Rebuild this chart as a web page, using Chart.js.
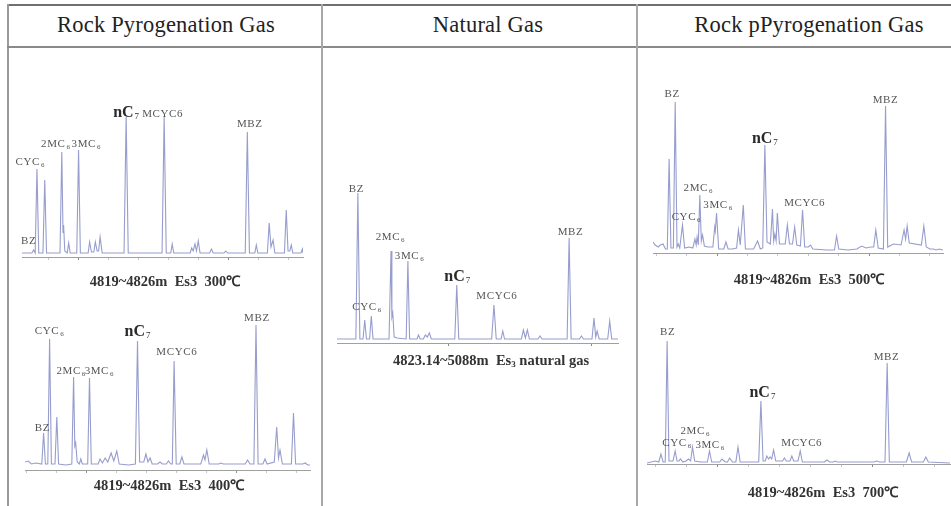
<!DOCTYPE html>
<html>
<head>
<meta charset="utf-8">
<script src="https://cdn.jsdelivr.net/npm/chart.js@4.4.1/dist/chart.umd.min.js"></script>
<style>
  html, body { margin:0; padding:0; background:#fff; }
  #wrap { position:relative; width:951px; height:506px; overflow:hidden; background:#fff; }
  .ln { position:absolute; background:#8c8c8c; }
  .hd { position:absolute; top:11px; height:28px; line-height:28px; width:320px; text-align:center;
        font-family:"Liberation Serif", "Times New Roman", serif; font-size:22.5px; letter-spacing:0.2px; color:#222; }
  .cap { position:absolute; height:18px; line-height:18px; width:320px; text-align:center; white-space:pre;
         font-family:"Liberation Serif", "Times New Roman", serif; font-size:14.5px; font-weight:bold; color:#333; }
  .cap sub { font-size:9px; vertical-align:-2px; line-height:0; }
  canvas { position:absolute; }
</style>
</head>
<body>
<div id="wrap">
  <div class="ln" style="left:7px;top:4px;width:944px;height:2px;background:#707070"></div>
  <div class="ln" style="left:7px;top:4px;width:1.5px;height:502px;background:#9a9a9a"></div>
  <div class="ln" style="left:7px;top:46px;width:944px;height:2px;background:#8a8a8a"></div>
  <div class="ln" style="left:321px;top:4px;width:2px;height:502px;background:#a8a8a8"></div>
  <div class="ln" style="left:636px;top:4px;width:2px;height:502px;background:#a8a8a8"></div>

  <div class="hd" style="left:6px">Rock Pyrogenation Gas</div>
  <div class="hd" style="left:328px">Natural Gas</div>
  <div class="hd" style="left:649px">Rock pPyrogenation Gas</div>

  <canvas id="c1" width="312" height="225" style="left:8px;top:50px"></canvas>
  <canvas id="c2" width="312" height="211" style="left:8px;top:295px"></canvas>
  <canvas id="c3" width="312" height="210" style="left:324px;top:150px"></canvas>
  <canvas id="c4" width="311" height="230" style="left:640px;top:50px"></canvas>
  <canvas id="c5" width="311" height="211" style="left:640px;top:295px"></canvas>

  <div class="cap" style="left:5px;top:272px">4819~4826m  Es3  300℃</div>
  <div class="cap" style="left:9px;top:476px">4819~4826m  Es3  400℃</div>
  <div class="cap" style="left:331px;top:351px">4823.14~5088m  Es<sub>3</sub> natural gas</div>
  <div class="cap" style="left:649px;top:270px">4819~4826m  Es3  500℃</div>
  <div class="cap" style="left:663px;top:483px">4819~4826m  Es3  700℃</div>
</div>
<script>
// ---- DATA: retention time (min), detector signal (relative units) ----
const p1Trace = [[3.11,4],[3.44,4],[3.50,7],[3.55,4],[3.61,88],[3.67,4],[3.81,4],[3.87,77],[3.93,4],[4.38,4],[4.44,105],[4.48,24],[4.50,32],[4.54,6],[4.62,4],[4.67,14],[4.72,4],[4.94,4],[5.00,107],[5.06,4],[5.32,4],[5.37,15],[5.43,5],[5.51,5],[5.56,15],[5.62,6],[5.67,6],[5.72,20],[5.79,4],[6.52,4],[6.59,140],[6.66,4],[7.79,4],[7.86,140],[7.93,4],[8.08,4],[8.13,13],[8.18,4],[8.73,4],[8.78,9],[8.83,6],[8.89,13],[8.94,6],[9.00,16],[9.06,4],[9.38,4],[9.44,8],[9.50,4],[9.86,4],[9.92,6],[9.98,4],[10.57,4],[10.64,125],[10.71,4],[10.89,4],[10.94,12],[10.99,4],[11.31,4],[11.37,34],[11.43,10],[11.50,17],[11.56,4],[11.88,4],[11.94,47],[12.00,6],[12.06,6],[12.11,12],[12.16,4],[12.43,4],[12.48,8],[12.50,4]];
const p2Trace = [[2.94,8],[3.05,9],[3.15,6],[3.30,7],[3.50,6],[3.56,37],[3.62,6],[3.70,6],[3.76,131],[3.82,6],[3.94,6],[4.00,53],[4.06,6],[4.30,5],[4.50,6],[4.56,93],[4.60,24],[4.63,27],[4.68,8],[4.75,6],[4.80,11],[4.85,6],[5.03,6],[5.09,92],[5.15,6],[5.38,6],[5.44,11],[5.52,7],[5.61,12],[5.70,8],[5.81,17],[5.90,9],[6.00,19],[6.08,6],[6.40,5],[6.62,6],[6.69,129],[6.76,8],[6.90,8],[6.97,16],[7.04,8],[7.11,12],[7.18,6],[7.36,6],[7.44,8],[7.52,6],[7.65,6],[7.72,9],[7.80,6],[7.85,6],[7.91,109],[7.98,6],[8.10,6],[8.17,13],[8.24,6],[8.80,6],[8.89,15],[8.94,10],[9.00,20],[9.08,6],[9.40,6],[9.47,7],[9.55,6],[10.28,6],[10.36,10],[10.44,6],[10.57,6],[10.64,145],[10.71,6],[10.87,6],[10.94,11],[11.01,6],[11.25,8],[11.33,43],[11.39,12],[11.44,20],[11.52,6],[11.82,6],[11.89,57],[11.96,6],[12.20,6],[12.28,7],[12.36,5],[12.44,5]];
const p3Trace = [[1.10,4],[1.76,4],[1.83,150],[1.90,4],[2.01,4],[2.07,23],[2.13,4],[2.24,4],[2.30,27],[2.36,4],[2.92,4],[2.99,92],[3.02,26],[3.05,30],[3.10,6],[3.20,5],[3.52,4],[3.58,82],[3.64,4],[3.90,4],[3.95,8],[4.01,4],[4.12,4],[4.19,8],[4.26,6],[4.33,10],[4.40,4],[5.22,4],[5.29,58],[5.36,4],[6.51,4],[6.59,38],[6.67,4],[6.84,4],[6.90,12],[6.96,4],[7.55,4],[7.62,13],[7.69,5],[7.76,13],[7.83,4],[8.13,4],[8.20,7],[8.27,4],[9.15,4],[9.22,105],[9.29,4],[9.58,4],[9.65,7],[9.72,4],[10.02,4],[10.09,25],[10.15,6],[10.20,12],[10.27,4],[10.57,4],[10.64,22],[10.71,4],[10.93,4]];
const p4Trace = [[2.89,11],[2.96,8],[3.06,6],[3.13,8],[3.22,9],[3.30,4],[3.36,4],[3.42,94],[3.48,5],[3.56,5],[3.62,151],[3.68,6],[3.72,9],[3.77,5],[3.86,28],[3.93,5],[4.08,6],[4.20,5],[4.27,14],[4.31,8],[4.34,16],[4.38,8],[4.43,58],[4.48,12],[4.52,18],[4.58,7],[4.70,6],[4.86,6],[4.92,26],[4.94,22],[4.98,40],[5.05,4],[5.22,4],[5.29,11],[5.36,4],[5.50,4],[5.64,5],[5.70,23],[5.76,8],[5.86,48],[5.93,4],[6.20,4],[6.33,12],[6.42,4],[6.50,5],[6.57,108],[6.64,11],[6.75,9],[6.82,44],[6.86,12],[6.90,19],[6.94,12],[6.98,40],[7.05,9],[7.24,9],[7.31,28],[7.38,9],[7.48,9],[7.55,26],[7.62,8],[7.74,7],[7.81,43],[7.88,6],[8.00,6],[8.07,8],[8.15,4],[8.60,3],[8.86,3],[8.93,17],[9.00,4],[9.30,3],[9.60,4],[9.75,7],[9.90,5],[10.05,6],[10.15,6],[10.22,23],[10.30,5],[10.47,4],[10.54,147],[10.61,6],[10.80,9],[11.05,8],[11.15,23],[11.20,14],[11.25,27],[11.32,10],[11.72,8],[11.80,27],[11.88,6],[12.00,4],[12.11,4],[12.20,3],[12.30,4],[12.43,3]];
const p5Trace = [[2.72,1],[2.99,3],[3.10,2],[3.17,10],[3.24,2],[3.31,2],[3.37,123],[3.43,3],[3.56,3],[3.63,13],[3.69,3],[3.75,3],[3.80,5],[3.88,2],[3.98,3],[4.06,5],[4.13,3],[4.19,17],[4.26,3],[4.45,2],[4.67,2],[4.74,13],[4.81,2],[5.07,2],[5.14,5],[5.25,2],[5.32,2],[5.39,6],[5.48,2],[5.59,2],[5.66,17],[5.73,2],[6.15,2],[6.33,2],[6.40,63],[6.47,3],[6.54,3],[6.59,8],[6.65,5],[6.70,7],[6.75,5],[6.81,14],[6.88,3],[7.10,3],[7.16,6],[7.22,3],[7.34,3],[7.40,8],[7.46,3],[7.60,3],[7.67,13],[7.74,2],[8.45,2],[8.53,4],[8.62,2],[8.74,2],[8.80,3],[8.86,2],[10.05,2],[10.14,3],[10.23,2],[10.41,2],[10.48,101],[10.55,2],[11.10,2],[11.19,11],[11.27,2],[11.65,2],[11.73,7],[11.81,2],[12.51,1]];

// peak labels: [text, subscript, retention time, signal level of label centre]
const p1Labels = [["CYC","6",3.39,95],["2MC","6",4.24,113],["3MC","6",5.26,113],["nC","7",6.59,144],["MCYC6","",7.81,143],["MBZ","",10.72,133],["BZ","",3.33,16]];
const p2Labels = [["BZ","",3.52,42],["CYC","6",3.76,139],["2MC","6",4.48,99],["3MC","6",5.42,99],["nC","7",6.69,138],["MCYC6","",8.00,118],["MBZ","",10.67,152]];
const p3Labels = [["BZ","",1.78,154],["CYC","6",2.15,36],["2MC","6",2.97,106],["3MC","6",3.64,87],["nC","7",5.31,66],["MCYC6","",6.69,47],["MBZ","",9.27,111]];
const p4Labels = [["BZ","",3.52,159],["CYC","6",3.99,36],["2MC","6",4.38,65],["3MC","6",5.03,48],["nC","7",6.57,114],["MCYC6","",7.88,50],["MBZ","",10.54,153]];
const p5Labels = [["BZ","",3.39,132],["CYC","6",3.69,21],["2MC","6",4.28,33],["3MC","6",4.76,19],["nC","7",6.45,71],["MCYC6","",7.72,21],["MBZ","",10.46,107]];

// ---- rendering ----
const LINE = '#979dcd';
const SERIF = '"Liberation Serif", "Times New Roman", serif';

function labelPlugin(labels) {
  return {
    id: 'peakLabels',
    afterDatasetsDraw(chart) {
      const ctx = chart.ctx, xs = chart.scales.x, ys = chart.scales.y;
      ctx.save();
      ctx.textBaseline = 'middle';
      ctx.textAlign = 'left';
      labels.forEach(([txt, sub, t, v]) => {
        const big = txt === 'nC';
        const px = xs.getPixelForValue(t), py = ys.getPixelForValue(v);
        ctx.font = (big ? 'bold 16px ' : '11px ') + SERIF;
        if ('letterSpacing' in ctx) ctx.letterSpacing = big ? '0px' : '0.6px';
        const wm = ctx.measureText(txt).width;
        ctx.font = (big ? '9px ' : '7px ') + SERIF;
        const ws = sub ? ctx.measureText(sub).width + 1 : 0;
        const x0 = px - (wm + ws) / 2;
        ctx.fillStyle = big ? '#2a2a2a' : '#555555';
        ctx.font = (big ? 'bold 16px ' : '11px ') + SERIF;
        ctx.fillText(txt, x0, py);
        if (sub) {
          ctx.font = (big ? '9px ' : '7px ') + SERIF;
          ctx.fillText(sub, x0 + wm + 1, py + (big ? 4 : 3));
        }
      });
      ctx.restore();
    }
  };
}

function makeChart(id, trace, labels, cfg) {
  new Chart(document.getElementById(id), {
    type: 'line',
    data: { datasets: [{ data: trace.map(([x, y]) => ({ x, y })), borderColor: LINE, borderWidth: 1.1,
                         pointRadius: 0, tension: 0, fill: false }] },
    options: {
      responsive: false, animation: false, events: [],
      layout: { padding: cfg.pad },
      plugins: { legend: { display: false }, tooltip: { enabled: false } },
      scales: {
        x: { type: 'linear', min: cfg.min, max: cfg.max,
             afterFit: s => { s.height = 6; },
             ticks: { display: false, stepSize: cfg.step, includeBounds: false },
             grid: { drawOnChartArea: false, drawTicks: true, tickLength: 3,
                     color: c => (c.tick && c.tick.value % 5 === 0) ? '#8a8a8a' : '#c8c8c8' },
             border: { display: true, color: '#a0a0a0', width: 1 } },
        y: { display: false, min: 0, max: cfg.ymax }
      }
    },
    plugins: [labelPlugin(labels)]
  });
}

makeChart('c1', p1Trace, p1Labels, { min: 3.11, max: 12.50, step: 1, ymax: 207, pad: { left: 14, right: 17, top: 0, bottom: 12 } });
makeChart('c2', p2Trace, p2Labels, { min: 2.94, max: 12.44, step: 1, ymax: 175, pad: { left: 17, right: 10, top: 0, bottom: 30 } });
makeChart('c3', p3Trace, p3Labels, { min: 1.10, max: 10.93, step: 5, ymax: 193, pad: { left: 13, right: 18, top: 0, bottom: 11 } });
makeChart('c4', p4Trace, p4Labels, { min: 2.89, max: 12.43, step: 1, ymax: 203, pad: { left: 13, right: 8, top: 0, bottom: 21 } });
makeChart('c5', p5Trace, p5Labels, { min: 2.72, max: 12.51, step: 1, ymax: 169, pad: { left: 7, right: 1, top: 0, bottom: 36 } });
</script>
</body>
</html>
